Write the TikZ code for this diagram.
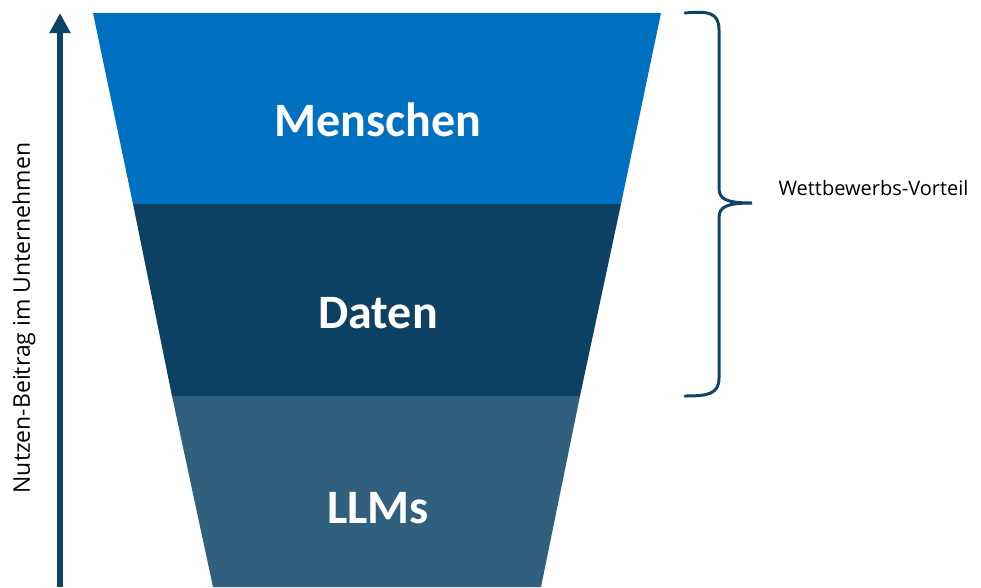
\documentclass[tikz,border=0pt]{standalone}
\usepackage{fontspec}
\usetikzlibrary{arrows.meta}
\setmainfont{Carlito}
\newfontfamily\labelfont{Open Sans}
\definecolor{cMensch}{HTML}{0070C0}
\definecolor{cDaten}{HTML}{0C4163}
\definecolor{cLLM}{HTML}{30607E}
\definecolor{cArrow}{HTML}{0E4468}
\begin{document}
\begin{tikzpicture}[x=1pt,y=-1pt,
  bigtext/.style={text=white,font=\fontsize{48}{56}\selectfont\bfseries},
  smalltext/.style={text=black,font=\labelfont\fontsize{#1}{#1}\selectfont}]
\useasboundingbox (0,0) rectangle (981,587);
% funnel layers
\fill[cMensch] (93,13) -- (661,13) -- (621,204) -- (133,204) -- cycle;
\fill[cDaten] (133,204) -- (621,204) -- (580,396) -- (172,396) -- cycle;
\fill[cLLM] (172,396) -- (580,396) -- (541,587) -- (213,587) -- cycle;
\node[bigtext] (menschen) at (378,120) {Menschen};
\node[bigtext] (daten) at (378,313) {Daten};
\node[bigtext] (llms) at (378,508) {LLMs};
% axis arrow
\coordinate (abot) at (60,587);
\coordinate (atop) at (60,13);
\draw[cArrow,line width=6pt,-{Triangle[width=20pt,length=20pt]}] (abot) -- (atop);
\node[smalltext=23,rotate=90] (axis) at (24,318) {Nutzen-Beitrag im Unternehmen};
% brace
\coordinate (btip) at (752,203);
\draw[cArrow,line width=3pt,line cap=round]
  (685,13) .. controls (708,11) and (719,12) .. (719,30) -- (719,188)
  .. controls (719,199) and (726,203) .. (btip)
  .. controls (726,203) and (719,207) .. (719,218) -- (719,378)
  .. controls (719,394) and (708,396) .. (685,396);
\node[smalltext=20,anchor=west] (vorteil) at (775,188) {Wettbewerbs-Vorteil};
\end{tikzpicture}
\end{document}
